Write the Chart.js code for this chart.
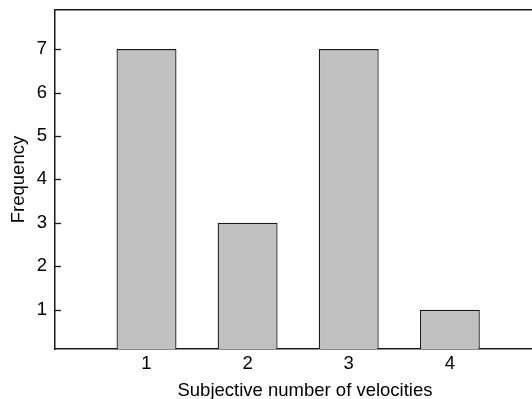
<!DOCTYPE html>
<html>
<head>
<meta charset="utf-8">
<script src="https://cdn.jsdelivr.net/npm/chart.js@4/dist/chart.umd.min.js"></script>
<style>
  html, body { margin: 0; padding: 0; background: #fff; overflow: hidden; }
  #wrap { width: 555px; height: 399px; }
</style>
</head>
<body>
<div id="wrap"><canvas id="chart" width="555" height="399"></canvas></div>
<script>
// values
const velocities = [1, 2, 3, 4];
const frequencies = [7, 3, 7, 1];
const xTicks = [1, 2, 3, 4];
const yTicks = [1, 2, 3, 4, 5, 6, 7];

const FONT = "'Liberation Sans', Arial, Helvetica, sans-serif";
const INK = "#1a1a1a";
const SIZE = 18.5;

// short tick marks pointing into the plot from the left axis
const innerTicks = {
  id: "innerTicks",
  afterDraw(chart) {
    const y = chart.scales.y;
    const ctx = chart.ctx;
    const left = chart.chartArea.left;
    ctx.save();
    ctx.strokeStyle = INK;
    ctx.lineWidth = 1.3;
    yTicks.forEach((v) => {
      const py = Math.round(y.getPixelForValue(v)) + 0.5;
      ctx.beginPath();
      ctx.moveTo(left, py);
      ctx.lineTo(left + 6, py);
      ctx.stroke();
    });
    ctx.restore();
  },
};

new Chart(document.getElementById("chart").getContext("2d"), {
  type: "bar",
  data: {
    datasets: [
      {
        data: velocities.map((v, i) => ({ x: v, y: frequencies[i] })),
        backgroundColor: "#c0c0c0",
        borderColor: INK,
        borderWidth: 1.3,
        borderSkipped: "bottom",
        barPercentage: 0.593,
        categoryPercentage: 1,
      },
    ],
  },
  options: {
    responsive: false,
    devicePixelRatio: 1,
    animation: false,
    layout: { padding: { top: 10, left: 0, right: 0, bottom: 0 } },
    plugins: { legend: { display: false }, tooltip: { enabled: false } },
    scales: {
      x: {
        type: "linear",
        position: "bottom",
        min: 0.095,
        max: 5.04,
        offset: false,
        afterBuildTicks: (s) => { s.ticks = xTicks.map((v) => ({ value: v })); },
        afterFit: (s) => {
          s.height = 50;
          s.paddingLeft = 0;
          s.paddingRight = 0;
        },
        grid: { display: false, drawTicks: false, offset: false },
        border: { display: true, color: INK, width: 1.5 },
        ticks: {
          padding: 4,
          color: "#000",
          font: { family: FONT, size: SIZE },
          maxRotation: 0,
        },
        title: {
          display: true,
          text: "Subjective number of velocities",
          color: "#000",
          font: { family: FONT, size: SIZE },
          padding: { top: 0, bottom: -3 },
        },
      },
      xTop: {
        type: "linear",
        position: "top",
        min: 0.095,
        max: 5.04,
        afterFit: (s) => { s.height = 0; },
        grid: { display: false, drawTicks: false },
        border: { display: true, color: INK, width: 1.5 },
        ticks: { display: false },
      },
      y: {
        min: 0.094,
        max: 7.9,
        afterBuildTicks: (s) => { s.ticks = yTicks.map((v) => ({ value: v })); },
        afterFit: (s) => {
          s.width = 55;
          s.paddingTop = 0;
          s.paddingBottom = 0;
        },
        grid: { display: false, drawTicks: false },
        border: { display: true, color: INK, width: 1.5 },
        ticks: {
          padding: 8,
          color: "#000",
          font: { family: FONT, size: SIZE },
        },
        title: {
          display: true,
          text: "Frequency",
          color: "#000",
          font: { family: FONT, size: SIZE },
          padding: { top: 8, bottom: 8 },
        },
      },
    },
  },
  plugins: [innerTicks],
});
</script>
</body>
</html>
